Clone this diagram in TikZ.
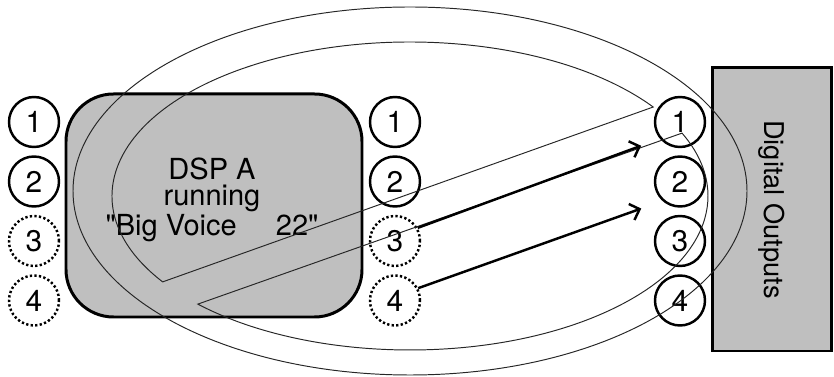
\documentclass[tikz,border=0pt]{standalone}
\usepackage{fontspec}
\setmainfont{TeX Gyre Heros}[Ligatures=TeXOff]
\usetikzlibrary{arrows.meta,positioning}
\definecolor{PanelGray}{RGB}{191,191,191}

\begin{document}
\begin{tikzpicture}[
  panel/.style={draw,line width=1.7pt,fill=PanelGray},
  port/.style={circle,draw,line width=1.4pt,fill=white,minimum size=1cm,
               inner sep=0pt,font=\fontsize{17}{19}\selectfont},
  portdot/.style={port,dash pattern=on 1.3pt off 1.3pt},
  ring/.style={line width=0.55pt,black!85},
  arr/.style={-{Straight Barb[length=1.7mm,width=3.4mm]},line width=1.4pt},
]
\useasboundingbox (0,0) rectangle (16.68,7.54);
% input pins of DSP A
\node[port] (l1) at (0.68,5.10) {1};
\node[port] (l2) at (0.68,3.91) {2};
\node[portdot] (l3) at (0.68,2.72) {3};
\node[portdot] (l4) at (0.68,1.53) {4};
\node[panel,rounded corners=0.95cm,minimum width=5.92cm,minimum height=4.46cm]
  (dsp) at (4.28,3.43) {};
\node[align=center,font=\fontsize{16.5}{15.1}\selectfont] (dsplabel) at (4.24,3.55)
  {DSP A\\running\\"Big Voice\hspace{1.35em}22"};
% output pins of DSP A
\node[port] (m1) at (7.90,5.10) {1};
\node[port] (m2) at (7.90,3.91) {2};
\node[portdot] (m3) at (7.90,2.72) {3};
\node[portdot] (m4) at (7.90,1.53) {4};
% digital outputs
\node[port] (r1) at (13.60,5.10) {1};
\node[port] (r2) at (13.60,3.91) {2};
\node[port] (r3) at (13.60,2.72) {3};
\node[port] (r4) at (13.60,1.53) {4};
\node[panel,rotate=-90,minimum width=5.66cm,minimum height=2.38cm,
      font=\fontsize{15.5}{18}\selectfont] (dout) at (15.44,3.35) {Digital Outputs};
% thin loop outlines
\coordinate (hub) at (8.20,3.72);
\coordinate (core) at (8.20,3.62);
\draw[ring] (hub) ellipse[x radius=6.74,y radius=3.68];
\draw[ring] (core) ++(213.9:5.96cm and 3.08cm)
  arc[start angle=213.9,end angle=35.3,x radius=5.96,y radius=3.08] -- cycle;
\draw[ring] (core) ++(224.6:5.96cm and 3.08cm)
  arc[start angle=224.6,end angle=384.1,x radius=5.96,y radius=3.08] -- cycle;
% routing
\draw[arr,shorten >=0.4cm] (m3.30) -- (r1.220);
\draw[arr,shorten >=0.45cm] (m4.28) -- (r2.228);
\end{tikzpicture}
\end{document}
